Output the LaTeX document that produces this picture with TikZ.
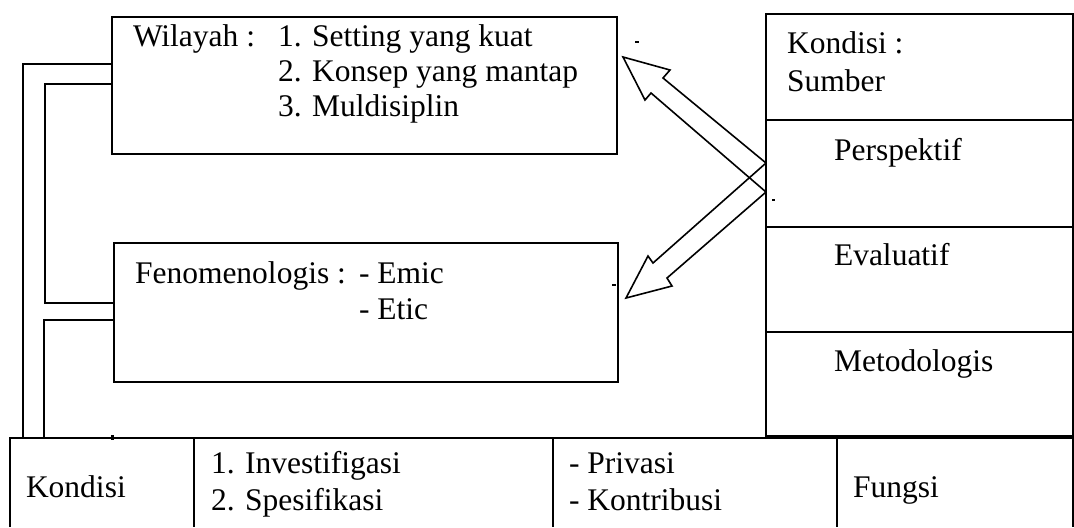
\documentclass[tikz,border=0pt]{standalone}
\usepackage{fontspec}
\setmainfont{Liberation Serif}
\begin{document}
\begin{tikzpicture}[x=0.5pt,y=-0.5pt,
  line width=1pt,
  txt/.style={anchor=base west,inner sep=0pt,font=\fontsize{15.75}{18}\selectfont},
  box/.style={draw,line width=1pt},
  blockarrow/.style={draw,line width=0.8pt,line join=miter}]
\useasboundingbox (0,0) rectangle (1074,527);

% boxes
\draw[box] (112,17) rectangle (617,154);
\draw[box] (114,243) rectangle (618,382);
\draw[box] (766,14) rectangle (1073,436);
\draw[box] (766,120) -- (1073,120);
\draw[box] (766,227) -- (1073,227);
\draw[box] (766,332) -- (1073,332);
% bottom table
\draw[box] (10,527) -- (10,438) -- (1073,438) -- (1073,527);
\draw[box] (194,438) -- (194,527);
\draw[box] (553,438) -- (553,527);
\draw[box] (837,438) -- (837,527);

% left bracket lines
\draw[box] (112,64) -- (23,64) -- (23,438);
\draw[box] (112,84) -- (45,84) -- (45,303) -- (114,303);
\draw[box] (114,320) -- (44,320) -- (44,438);

% stray marks
\fill (110.5,435) rectangle (113.5,440);
\fill (635,41) rectangle (639,43);
\fill (772,199) rectangle (775,201);
\fill (612,284) rectangle (616,286);

% block arrows
\coordinate (e1) at (766,163);
\coordinate (e2) at (766,192);
\draw[blockarrow] (e1) -- (663,78) -- (670,70) -- (623,57) -- (645,100) -- (651,93) -- (e2);
\draw[blockarrow] (e1) -- (653,263) -- (648,256) -- (626,298) -- (672,286) -- (667,278) -- (e2);

% texts
\node[txt] (w0) at (132,46) {Wilayah :};
\node[txt] (w1) at (277,46) {1. Setting yang kuat};
\node[txt] (w2) at (277,81) {2. Konsep yang mantap};
\node[txt] (w3) at (277,116) {3. Muldisiplin};

\node[txt] (f0) at (134,283) {Fenomenologis :};
\node[txt] (f1) at (358,283) {- Emic};
\node[txt] (f2) at (358,319) {- Etic};

\node[txt] (k0) at (786,53) {Kondisi :};
\node[txt] (k1) at (786,91) {Sumber};
\node[txt] (k2) at (833,160) {Perspektif};
\node[txt] (k3) at (833,265) {Evaluatif};
\node[txt] (k4) at (833,371) {Metodologis};

\node[txt] (b0) at (25,497) {Kondisi};
\node[txt] (b1) at (210,473) {1. Investifigasi};
\node[txt] (b2) at (210,510) {2. Spesifikasi};
\node[txt] (b3) at (568,473) {- Privasi};
\node[txt] (b4) at (568,510) {- Kontribusi};
\node[txt] (b5) at (852,497) {Fungsi};
\end{tikzpicture}
\end{document}
